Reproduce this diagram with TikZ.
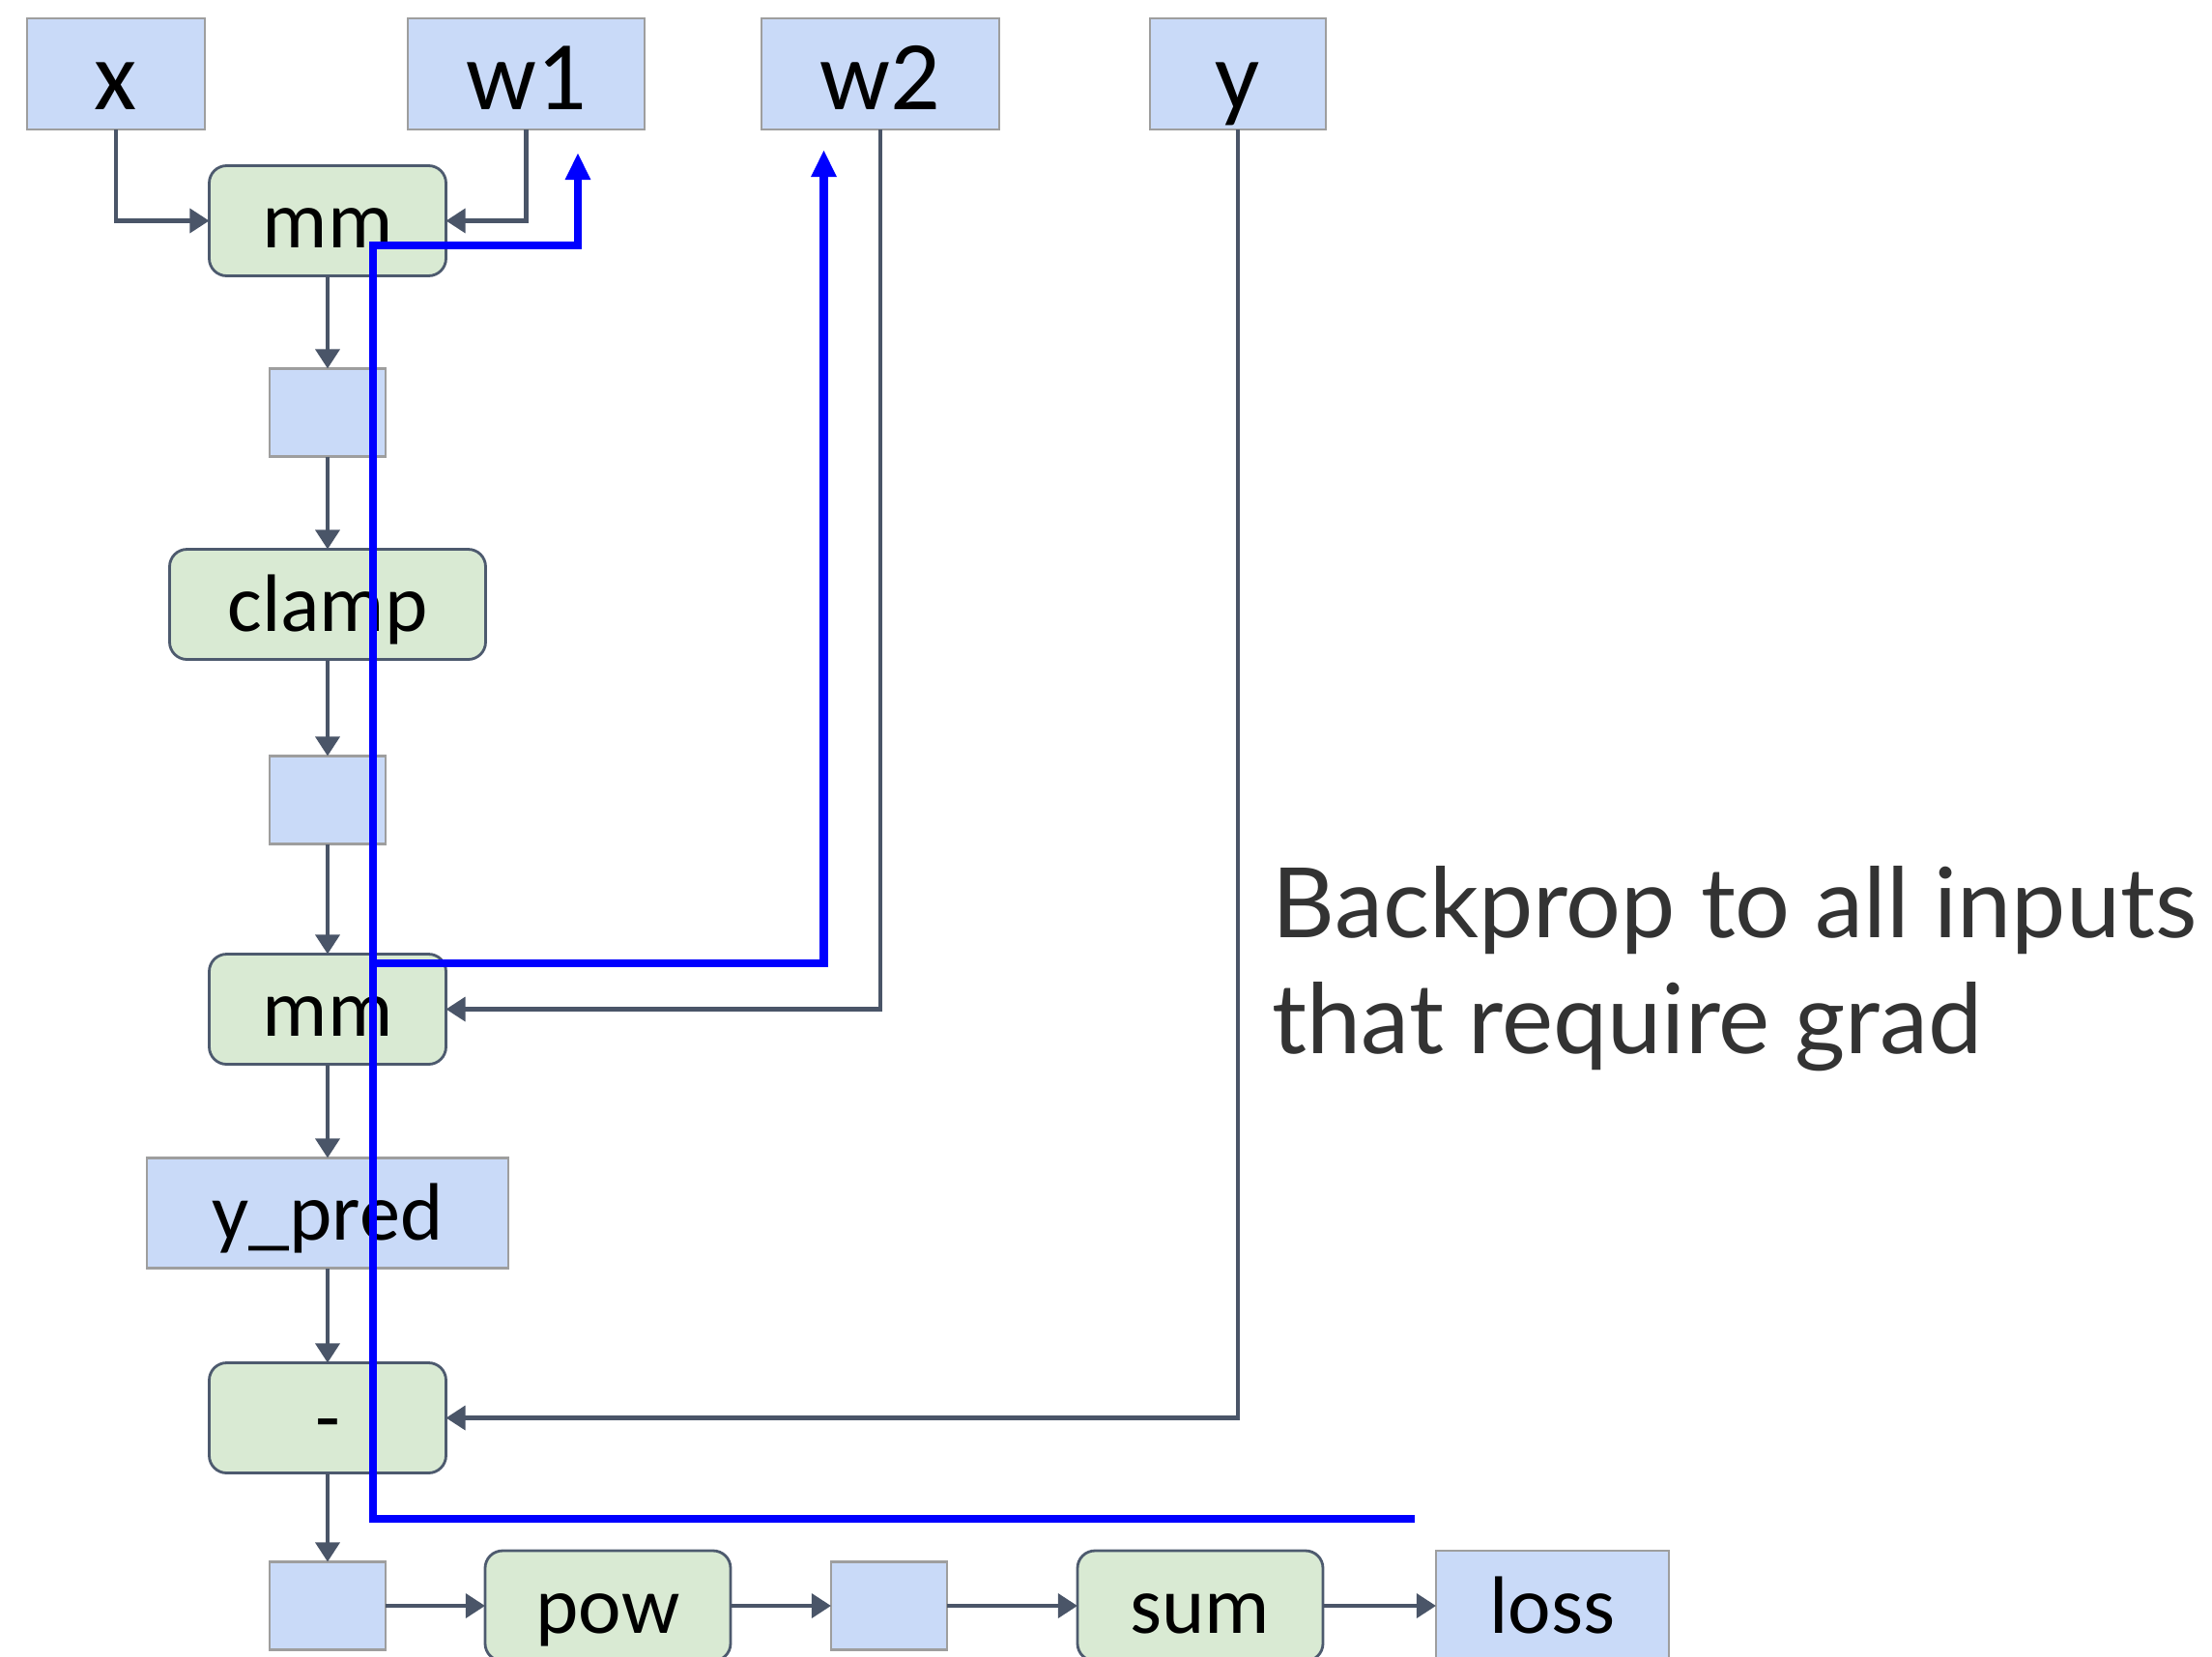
\documentclass[tikz,border=0pt]{standalone}
\usepackage{fontspec}
\setmainfont{Carlito}
\newfontfamily\latofont{Lato}
\usepackage{tikz}
\usetikzlibrary{positioning, arrows.meta}

\definecolor{varfill}{HTML}{C9DAF8}
\definecolor{varline}{HTML}{9E9E9E}
\definecolor{opfill}{HTML}{D9EAD3}
\definecolor{opline}{HTML}{4D5A6E}
\definecolor{edge}{HTML}{4A5568}
\definecolor{gradblue}{HTML}{0000FF}
\definecolor{notegrey}{HTML}{333333}

\newcommand\leaffont{\fontsize{29}{34}\selectfont}
\newcommand\opfont{\fontsize{24}{29}\selectfont}

\begin{document}
\begin{tikzpicture}[
  >={Triangle[length=5.7pt,width=7pt]},
  var/.style  = {draw=varline, fill=varfill, line width=0.7pt, inner sep=0pt, outer sep=0pt,
                 minimum height=1.15cm, font=\leaffont, text height=23pt, text depth=2pt},
  res/.style  = {var, font=\opfont, minimum height=1.14cm, text height=18pt},
  tmp/.style  = {var, minimum width=1.2cm, minimum height=0.91cm},
  op/.style   = {draw=opline, fill=opfill, line width=0.8pt, rounded corners=0.18cm,
                 inner sep=0pt, outer sep=0pt, minimum height=1.14cm, font=\opfont,
                 text height=18pt, text depth=2pt},
  flow/.style = {->, draw=edge, line width=1.3pt},
  grad/.style = {->, draw=gradblue, line width=2.4pt, >={Triangle[length=8pt,width=7pt]}},
]
  \useasboundingbox (0,0) rectangle (22.89,-17.14);

  % inputs
  \node[var, minimum width=1.84cm] (x)  at (1.20,-0.765)  {x};
  \node[var, minimum width=2.45cm] (w1) at (5.445,-0.765) {w1};
  \node[var, minimum width=2.46cm] (w2) at (9.11,-0.765)  {w2};
  \node[var, minimum width=1.82cm] (y)  at (12.81,-0.765) {y};

  % forward graph
  \node[op, minimum width=2.45cm] (mm1) at (3.39,-2.285) {mm};
  \node[tmp, below=0.96cm of mm1]                     (h1)    {};
  \node[op,  minimum width=3.27cm, below=0.96cm of h1] (clamp) {clamp};
  \node[tmp, below=1.0cm of clamp]                    (h2)    {};
  \node[op,  minimum width=2.45cm, below=1.14cm of h2] (mm2)   {mm};
  \node[res, minimum width=3.74cm, below=0.97cm of mm2] (ypred) {y\_pred};
  \node[op,  minimum width=2.45cm, below=0.98cm of ypred] (diff) {-};
  \node[tmp, below=0.92cm of diff]                    (h3)    {};
  \node[op,  minimum width=2.54cm, right=1.03cm of h3] (pow)   {pow};
  \node[tmp, right=1.04cm of pow]                     (h4)    {};
  \node[op,  minimum width=2.54cm, right=1.35cm of h4] (sum)   {sum};
  \node[res, minimum width=2.41cm, right=1.17cm of sum] (loss) {loss};

  \draw[flow] (x)  |- (mm1);
  \draw[flow] (w1) |- (mm1);
  \draw[flow] (w2) |- (mm2);
  \draw[flow] (y)  |- (diff);
  \foreach \a/\b in {mm1/h1, h1/clamp, clamp/h2, h2/mm2, mm2/ypred,
                     ypred/diff, diff/h3, h3/pow, pow/h4, h4/sum, sum/loss}
    \draw[flow] (\a) -- (\b);

  % backward pass
  \coordinate (gstart)  at (14.64,-15.72);
  \coordinate (gtop)    at (3.86,-2.54);
  \coordinate (gbranch) at (3.86,-9.97);
  \coordinate (gw1)     at (5.98,-1.58);
  \coordinate (gw2)     at (8.525,-1.55);
  \draw[grad] (gstart) -| (gtop) -| (gw1);
  \draw[grad] (gbranch) -| (gw2);

  \node[font=\latofont\fontsize{28.6}{34}\selectfont, text=notegrey, align=left,
        anchor=north west, inner sep=0pt] (note) at (13.16,-8.96)
        {Backprop to all inputs\\that require grad};
\end{tikzpicture}
\end{document}
